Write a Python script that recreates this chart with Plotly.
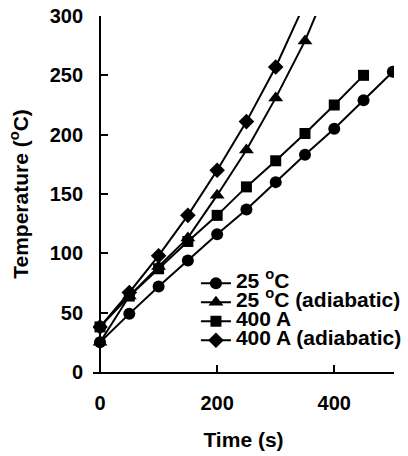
import plotly.graph_objects as go

# ---- data ----
time_c25 = [0, 50, 100, 150, 200, 250, 300, 350, 400, 450, 500]
temp_c25 = [25, 49, 72, 94, 116, 137, 160, 183, 205, 229, 253]

time_c25_adi = [0, 50, 100, 150, 200, 250, 300, 350, 400]
temp_c25_adi = [25, 64, 89, 113, 149, 187, 231, 279, 338]

time_a400 = [0, 50, 100, 150, 200, 250, 300, 350, 400, 450]
temp_a400 = [38, 64, 87, 110, 132, 156, 178, 201, 225, 250]

time_a400_adi = [0, 50, 100, 150, 200, 250, 300, 350]
temp_a400_adi = [38, 67, 98, 132, 170, 211, 257, 311]

names = ["25 <sup>o</sup>C", "25 <sup>o</sup>C (adiabatic)", "400 A", "400 A (adiabatic)"]
symbols = ["circle", "triangle-up", "square", "diamond"]
sizes = [12, 13, 11, 12]

x_tickvals = [0, 200, 400]
y_tickvals = [0, 50, 100, 150, 200, 250, 300]

x_range = [-12, 502]
y_range = [0, 300]

FONT = "Arial, Liberation Sans, sans-serif"

fig = go.Figure()
series = [
    (time_c25, temp_c25),
    (time_c25_adi, temp_c25_adi),
    (time_a400, temp_a400),
    (time_a400_adi, temp_a400_adi),
]
for (xs, ys), nm, sym, sz in zip(series, names, symbols, sizes):
    fig.add_trace(go.Scatter(
        x=xs, y=ys, mode="lines+markers",
        name='<span style="font-size:21px"><b>' + nm + '</b></span>',
        line=dict(color="black", width=2),
        marker=dict(symbol=sym, size=sz, color="black"),
        cliponaxis=True,
    ))

# invisible copies to materialise overlay axes (used for the other half of crossing ticks)
fig.add_trace(go.Scatter(x=time_c25, y=temp_c25, xaxis="x2", yaxis="y", mode="markers",
                         marker=dict(opacity=0), showlegend=False, hoverinfo="skip"))
fig.add_trace(go.Scatter(x=time_c25, y=temp_c25, xaxis="x", yaxis="y2", mode="markers",
                         marker=dict(opacity=0), showlegend=False, hoverinfo="skip"))

ypos = (0 - x_range[0]) / (x_range[1] - x_range[0])

axis_common = dict(showgrid=False, zeroline=False, showline=True, linecolor="black", linewidth=2,
                   tickcolor="black", tickwidth=2, ticklen=7)
tickfont = dict(size=20, family=FONT, weight="bold", color="black")

fig.update_layout(
    width=408, height=456,
    margin=dict(l=93, r=14, t=16, b=84, autoexpand=False),
    paper_bgcolor="white", plot_bgcolor="white",
    font=dict(family=FONT, color="black", size=20),
    xaxis=dict(range=x_range, tickvals=x_tickvals, ticks="inside", anchor="y",
               tickfont=tickfont, automargin=False, ticklabelstandoff=12,
               title=dict(text="<b>Time (s)</b>", font=dict(size=21, family=FONT), standoff=19),
               **axis_common),
    xaxis2=dict(range=x_range, tickvals=x_tickvals, ticks="inside", overlaying="x", anchor="y",
                showticklabels=False, automargin=False, **axis_common),
    yaxis=dict(range=y_range, tickvals=y_tickvals, ticks="inside", anchor="free", position=ypos,
               tickfont=tickfont, automargin=False, ticklabelstandoff=12,
               title=dict(text="<b>Temperature (<sup>o</sup>C)</b>", font=dict(size=21, family=FONT), standoff=14),
               **axis_common),
    yaxis2=dict(range=y_range, tickvals=y_tickvals, ticks="inside", overlaying="y", anchor="free",
                position=ypos, showticklabels=False, automargin=False, **axis_common),
    legend=dict(x=0.342, y=0.29, xanchor="left", yanchor="top", bgcolor="rgba(0,0,0,0)",
                font=dict(size=12, family=FONT), tracegroupgap=0),
    showlegend=True,
)

fig.write_html("out.html")
